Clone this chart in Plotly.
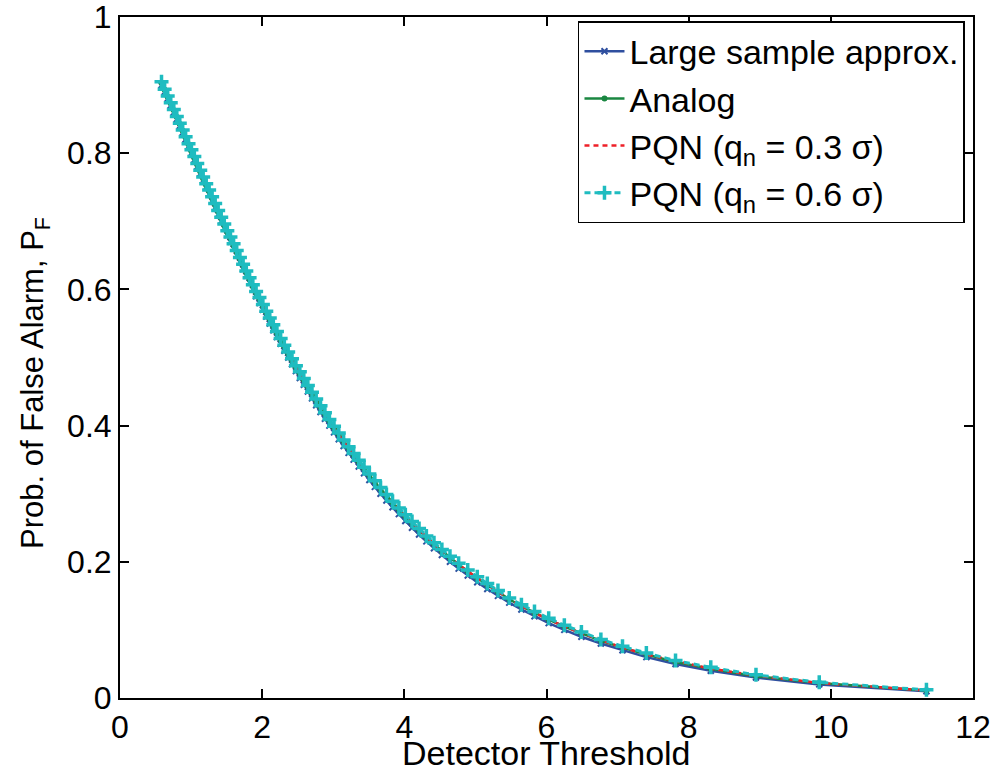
import plotly.graph_objects as go

# Detector thresholds (shared by all curves)
threshold = [
    0.584, 0.628, 0.671, 0.714, 0.757, 0.799, 0.841, 0.882, 0.923, 0.964,
    1.005, 1.046, 1.087, 1.129, 1.170, 1.213, 1.254, 1.296, 1.339, 1.381,
    1.424, 1.467, 1.510, 1.554, 1.598, 1.642, 1.687, 1.732, 1.777, 1.823,
    1.869, 1.915, 1.962, 2.010, 2.058, 2.107, 2.157, 2.208, 2.260, 2.312,
    2.366, 2.420, 2.475, 2.530, 2.586, 2.643, 2.701, 2.760, 2.821, 2.883,
    2.946, 3.011, 3.078, 3.146, 3.216, 3.287, 3.359, 3.433, 3.508, 3.585,
    3.665, 3.748, 3.834, 3.923, 4.014, 4.108, 4.207, 4.310, 4.417, 4.528,
    4.642, 4.764, 4.892, 5.026, 5.167, 5.317, 5.476, 5.647, 5.831, 6.031,
    6.251, 6.491, 6.765, 7.069, 7.405, 7.815, 8.311, 8.947, 9.837, 11.345,
]

pf_large_sample = [
    0.90, 0.89, 0.88, 0.87, 0.86, 0.85, 0.84, 0.83, 0.82, 0.81,
    0.80, 0.79, 0.78, 0.77, 0.76, 0.75, 0.74, 0.73, 0.72, 0.71,
    0.70, 0.69, 0.68, 0.67, 0.66, 0.65, 0.64, 0.63, 0.62, 0.61,
    0.60, 0.59, 0.58, 0.57, 0.56, 0.55, 0.54, 0.53, 0.52, 0.51,
    0.50, 0.49, 0.48, 0.47, 0.46, 0.45, 0.44, 0.43, 0.42, 0.41,
    0.40, 0.39, 0.38, 0.37, 0.36, 0.35, 0.34, 0.33, 0.32, 0.31,
    0.30, 0.29, 0.28, 0.27, 0.26, 0.25, 0.24, 0.23, 0.22, 0.21,
    0.20, 0.19, 0.18, 0.17, 0.16, 0.15, 0.14, 0.13, 0.12, 0.11,
    0.10, 0.09, 0.08, 0.07, 0.06, 0.05, 0.04, 0.03, 0.02, 0.01,
]

pf_analog = [
    0.903, 0.893, 0.883, 0.873, 0.863, 0.853, 0.843, 0.833, 0.823, 0.813,
    0.803, 0.793, 0.783, 0.773, 0.763, 0.753, 0.744, 0.734, 0.724, 0.714,
    0.704, 0.694, 0.684, 0.675, 0.665, 0.655, 0.645, 0.635, 0.625, 0.615,
    0.605, 0.595, 0.586, 0.576, 0.566, 0.556, 0.546, 0.536, 0.526, 0.516,
    0.506, 0.496, 0.486, 0.477, 0.467, 0.457, 0.447, 0.437, 0.427, 0.417,
    0.407, 0.397, 0.387, 0.377, 0.367, 0.357, 0.347, 0.337, 0.327, 0.317,
    0.307, 0.297, 0.287, 0.277, 0.267, 0.257, 0.247, 0.236, 0.226, 0.216,
    0.206, 0.196, 0.186, 0.176, 0.166, 0.156, 0.145, 0.135, 0.125, 0.115,
    0.105, 0.095, 0.084, 0.074, 0.064, 0.053, 0.043, 0.032, 0.022, 0.011,
]

pf_pqn_03 = [
    0.903, 0.892, 0.882, 0.872, 0.862, 0.852, 0.842, 0.832, 0.822, 0.812,
    0.802, 0.792, 0.782, 0.772, 0.763, 0.753, 0.743, 0.733, 0.723, 0.713,
    0.703, 0.693, 0.684, 0.674, 0.664, 0.654, 0.644, 0.634, 0.624, 0.614,
    0.604, 0.594, 0.585, 0.575, 0.565, 0.555, 0.545, 0.535, 0.525, 0.515,
    0.505, 0.495, 0.485, 0.476, 0.466, 0.456, 0.446, 0.436, 0.426, 0.416,
    0.406, 0.396, 0.386, 0.376, 0.366, 0.356, 0.346, 0.336, 0.326, 0.316,
    0.306, 0.296, 0.286, 0.276, 0.266, 0.257, 0.247, 0.236, 0.226, 0.216,
    0.206, 0.196, 0.186, 0.176, 0.166, 0.156, 0.146, 0.135, 0.125, 0.115,
    0.105, 0.095, 0.085, 0.074, 0.064, 0.054, 0.043, 0.033, 0.022, 0.011,
]

pf_pqn_06 = [
    0.905, 0.894, 0.884, 0.874, 0.864, 0.854, 0.844, 0.834, 0.824, 0.814,
    0.805, 0.795, 0.785, 0.775, 0.765, 0.755, 0.746, 0.736, 0.726, 0.716,
    0.706, 0.696, 0.686, 0.677, 0.667, 0.657, 0.647, 0.637, 0.627, 0.617,
    0.607, 0.597, 0.588, 0.578, 0.568, 0.558, 0.548, 0.538, 0.528, 0.518,
    0.508, 0.498, 0.488, 0.479, 0.469, 0.459, 0.449, 0.439, 0.429, 0.419,
    0.409, 0.399, 0.389, 0.379, 0.369, 0.359, 0.349, 0.339, 0.329, 0.319,
    0.309, 0.299, 0.289, 0.279, 0.269, 0.259, 0.249, 0.238, 0.228, 0.218,
    0.208, 0.198, 0.188, 0.178, 0.168, 0.158, 0.147, 0.137, 0.127, 0.117,
    0.107, 0.097, 0.086, 0.076, 0.066, 0.055, 0.045, 0.034, 0.023, 0.012,
]

x_ticks = [0, 2, 4, 6, 8, 10, 12]
y_ticks = [0, 0.2, 0.4, 0.6, 0.8, 1]
y_tick_text = ["0", "0.2", "0.4", "0.6", "0.8", "1"]

FONT = "Liberation Sans, Arial, sans-serif"
TICK_FS = 32
TEXT_FS = 34
YTITLE_FS = 31

fig = go.Figure()

fig.add_trace(go.Scatter(
    x=threshold, y=pf_large_sample, mode="lines+markers",
    name="Large sample approx.",
    line=dict(color="#2f4f9f", width=2.5),
    marker=dict(symbol="x-thin", size=6, line=dict(color="#2f4f9f", width=2)),
))
fig.add_trace(go.Scatter(
    x=threshold, y=pf_analog, mode="lines+markers",
    name="Analog",
    line=dict(color="#1a8741", width=2.5),
    marker=dict(symbol="circle", size=6, color="#1a8741"),
))
fig.add_trace(go.Scatter(
    x=threshold, y=pf_pqn_03, mode="lines",
    name="PQN (q<sub>n</sub> = 0.3 σ)",
    line=dict(color="#ee2028", width=2.5, dash="5px,4px"),
))
fig.add_trace(go.Scatter(
    x=threshold, y=pf_pqn_06, mode="lines+markers",
    name="PQN (q<sub>n</sub> = 0.6 σ)",
    line=dict(color="#1fbcc0", width=3, dash="6px,4px"),
    marker=dict(symbol="cross-thin", size=10, line=dict(color="#1fbcc0", width=3.5)),
))

axis_common = dict(
    showline=True, linecolor="black", linewidth=2, mirror="ticks",
    ticks="inside", ticklen=9, tickwidth=1.5, tickcolor="black",
    showgrid=False, zeroline=False, automargin=False,
    ticklabeloverflow="allow", ticklabelstandoff=0,
    tickfont=dict(family=FONT, size=TICK_FS, color="black"),
)

fig.update_xaxes(range=[0, 12], tickvals=x_ticks, **axis_common)
fig.update_yaxes(range=[0, 1], tickvals=y_ticks, ticktext=y_tick_text, **axis_common)

# Axis titles
fig.add_annotation(
    text="Detector Threshold", xref="paper", yref="paper",
    x=0.5, y=-0.081, xanchor="center", yanchor="middle", showarrow=False,
    font=dict(family=FONT, size=TEXT_FS, color="black"),
)
fig.add_annotation(
    text="Prob. of False Alarm, P<sub>F</sub>", xref="paper", yref="paper",
    x=-0.099, y=0.462, xanchor="center", yanchor="middle", showarrow=False,
    textangle=-90, font=dict(family=FONT, size=YTITLE_FS, color="black"),
)

fig.update_layout(
    width=996, height=776,
    margin=dict(l=120, r=23, t=17, b=78),
    plot_bgcolor="white", paper_bgcolor="white",
    font=dict(family=FONT, size=TEXT_FS, color="black"),
    legend=dict(
        x=0.9906, y=0.994, xanchor="right", yanchor="top",
        bgcolor="white", bordercolor="black", borderwidth=1.5,
        font=dict(family=FONT, size=TEXT_FS, color="black"),
        tracegroupgap=0, itemwidth=40,
    ),
)

fig.write_html("out.html")
